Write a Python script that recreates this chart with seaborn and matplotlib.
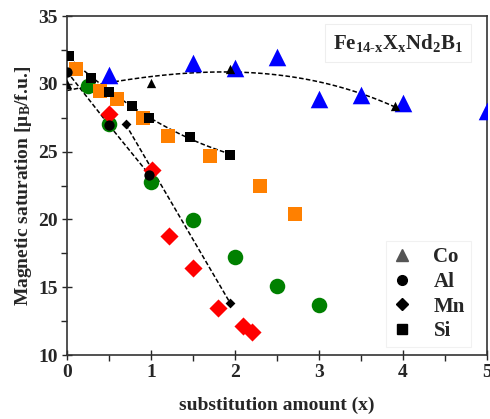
import numpy as np
import pandas as pd
import matplotlib
matplotlib.use("Agg")
import matplotlib.pyplot as plt
from matplotlib.lines import Line2D
import seaborn as sns

# ---- data ----
co_exp_x = [0.5, 1.5, 2.0, 2.5, 3.0, 3.5, 4.0, 5.0]
co_exp_y = [30.65, 31.5, 31.2, 32.0, 28.9, 29.2, 28.6, 28.0]
co_calc_x = [0.0, 1.0, 1.94, 3.9]
co_calc_y = [30.0, 30.08, 31.1, 28.35]
co_fit_x = [0.0, 1.0, 1.5, 2.0, 2.5, 3.0, 3.5, 3.9]
co_fit_y = [29.55, 30.33, 30.9, 31.0, 30.72, 30.03, 29.17, 28.4]

al_exp_x = [0.25, 0.5, 1.0, 1.5, 2.0, 2.5, 3.0]
al_exp_y = [29.84, 27.0, 22.78, 19.96, 17.2, 15.1, 13.7]
al_calc_x = [0.0, 0.5, 0.98]
al_calc_y = [30.9, 26.96, 23.3]

mn_exp_x = [0.5, 1.01, 1.21, 1.5, 1.8, 2.1, 2.2]
mn_exp_y = [27.77, 23.64, 18.8, 16.44, 13.5, 12.14, 11.67]
mn_calc_x = [0.7, 1.94]
mn_calc_y = [27.0, 13.86]

si_exp_x = [0.11, 0.39, 0.6, 0.9, 1.2, 1.7, 2.3, 2.71]
si_exp_y = [31.07, 29.5, 28.85, 27.5, 26.17, 24.68, 22.5, 20.38]
si_calc_x = [0.02, 0.29, 0.5, 0.77, 0.98, 1.47, 1.94]
si_calc_y = [32.05, 30.45, 29.4, 28.36, 27.5, 26.1, 24.75]

legend_labels = ["Co", "Al", "Mn", "Si"]
x_ticks = [0, 1, 2, 3, 4, 5]
y_ticks = [10, 15, 20, 25, 30, 35]

# ---- style ----
sns.set_style("white")
plt.rcParams["font.family"] = ["Liberation Serif", "DejaVu Serif"]
plt.rcParams["font.weight"] = "bold"
plt.rcParams["mathtext.fontset"] = "custom"
plt.rcParams["mathtext.rm"] = "Liberation Serif:bold"
plt.rcParams["mathtext.bf"] = "Liberation Serif:bold"
plt.rcParams["mathtext.it"] = "Liberation Serif:bold"

fig = plt.figure(figsize=(4.9, 4.19), dpi=100)
ax = fig.add_axes([0.1367, 0.1527, 0.8572, 0.8091])

dash = (0, (3, 1.5))
# dashed fit lines
xs = np.linspace(min(co_fit_x), max(co_fit_x), 100)
co_poly = np.polyfit(co_fit_x, co_fit_y, 3)
sns.lineplot(x=xs, y=np.polyval(co_poly, xs), ax=ax, color="black",
             linestyle=dash, linewidth=1.1, zorder=2)
xs = np.linspace(min(si_calc_x), max(si_calc_x), 100)
si_poly = np.polyfit(si_calc_x, si_calc_y, 2)
sns.lineplot(x=xs, y=np.polyval(si_poly, xs), ax=ax, color="black",
             linestyle=dash, linewidth=1.1, zorder=2)
sns.lineplot(x=al_calc_x, y=al_calc_y, ax=ax, color="black",
             linestyle=dash, linewidth=1.1, zorder=2)
sns.lineplot(x=mn_calc_x, y=mn_calc_y, ax=ax, color="black",
             linestyle=dash, linewidth=1.1, zorder=2)

# experimental (coloured) markers
sns.scatterplot(x=co_exp_x, y=co_exp_y, ax=ax, marker="^", color="#0000ff",
                s=160, linewidth=0, zorder=3)
sns.scatterplot(x=al_exp_x, y=al_exp_y, ax=ax, marker="o", color="#008000",
                s=125, linewidth=0, zorder=3)
sns.scatterplot(x=mn_exp_x, y=mn_exp_y, ax=ax, marker="D", color="#ff0000",
                s=85, linewidth=0, zorder=3)
sns.scatterplot(x=si_exp_x, y=si_exp_y, ax=ax, marker="s", color="#ff8000",
                s=90, linewidth=0, zorder=3)

# calculated (black) markers
sns.scatterplot(x=co_calc_x, y=co_calc_y, ax=ax, marker="^", color="black",
                s=45, linewidth=0, zorder=4)
sns.scatterplot(x=al_calc_x, y=al_calc_y, ax=ax, marker="o", color="black",
                s=55, linewidth=0, zorder=4)
sns.scatterplot(x=mn_calc_x, y=mn_calc_y, ax=ax, marker="D", color="black",
                s=25, linewidth=0, zorder=4)
sns.scatterplot(x=si_calc_x, y=si_calc_y, ax=ax, marker="s", color="black",
                s=55, linewidth=0, zorder=4)

ax.set_xlim(0, 5)
ax.set_ylim(10, 35)
ax.set_xticks(x_ticks)
ax.set_yticks(y_ticks)
ax.set_xticks(np.arange(0.5, 5, 1.0), minor=True)
ax.set_yticks(np.arange(12.5, 35, 5.0), minor=True)
ax.tick_params(axis="both", which="major", direction="inout", length=7,
               width=1.0, labelsize=14, bottom=True, left=True, pad=3)
ax.tick_params(axis="both", which="minor", direction="out", length=4,
               width=1.0, bottom=True, left=True)
for lab in ax.get_xticklabels() + ax.get_yticklabels():
    lab.set_fontweight("bold")
for sp in ax.spines.values():
    sp.set_color("#333333")
    sp.set_linewidth(1.2)

ax.set_xlabel("substitution amount (x)", fontsize=14, fontweight="bold",
              labelpad=11)
ax.set_ylabel(r"Magnetic saturation [μ$_{\mathbf{B}}$/f.u.]", fontsize=14,
              fontweight="bold", labelpad=3)

ax.text(0.788, 0.92, r"Fe$_{\mathbf{14\text{-}x}}$X$_{\mathbf{x}}$Nd$_{\mathbf{2}}$B$_{\mathbf{1}}$",
        transform=ax.transAxes, ha="center", va="center", fontsize=15,
        fontweight="bold",
        bbox=dict(boxstyle="square,pad=0.4", facecolor="white",
                  edgecolor="#eeeeee", linewidth=0.8))

handles = [
    Line2D([], [], marker="^", color="#555555", linestyle="none", markersize=8),
    Line2D([], [], marker="o", color="black", linestyle="none", markersize=7),
    Line2D([], [], marker="D", color="black", linestyle="none", markersize=6),
    Line2D([], [], marker="s", color="black", linestyle="none", markersize=6.5),
]
leg = ax.legend(handles, legend_labels, loc="lower right",
                bbox_to_anchor=(0.972, 0.01), frameon=True, fancybox=False,
                prop=dict(family="Liberation Serif", weight="bold", size=15),
                handlelength=1.0, handletextpad=1.0, labelspacing=0.22,
                borderpad=0.3, borderaxespad=0.2)
leg.get_frame().set_edgecolor("#eeeeee")
leg.get_frame().set_linewidth(0.8)

fig.savefig("out.png", dpi=100)
